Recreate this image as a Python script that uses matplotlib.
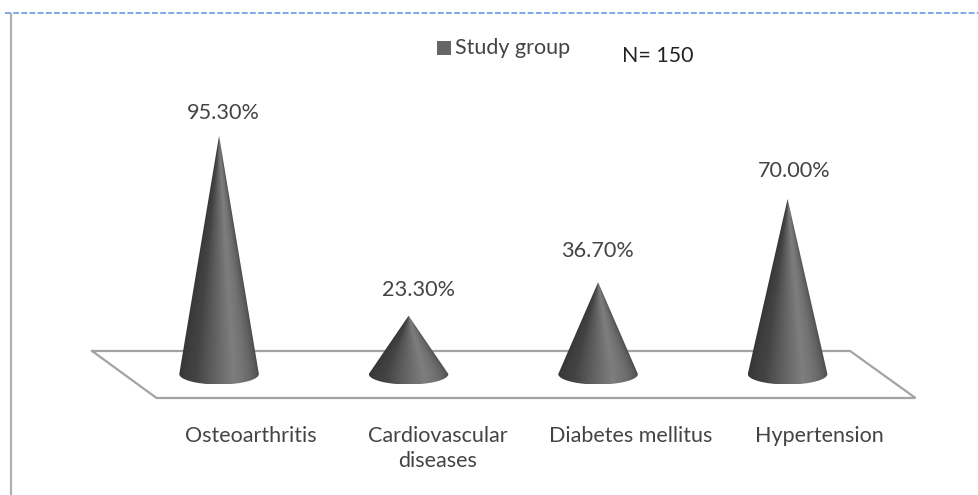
import numpy as np
import matplotlib
matplotlib.use("Agg")
import matplotlib.pyplot as plt
from matplotlib.colors import LinearSegmentedColormap
from matplotlib.patches import Polygon

categories = ["Osteoarthritis", "Cardiovascular\ndiseases", "Diabetes mellitus", "Hypertension"]
values = [95.3, 23.3, 36.7, 70.0]
value_labels = ["95.30%", "23.30%", "36.70%", "70.00%"]
legend_name = "Study group"
n_text = "N= 150"

plt.rcParams["font.family"] = ["Lato", "DejaVu Sans"]
text_col = "#444444"

fig = plt.figure(figsize=(9.79, 4.95), dpi=100)
# one axes over the whole figure: 1 category = 189.5 px, 1 percent = 2.5 px
ax = fig.add_axes([0, 0, 1, 1])
ax.set_xlim(-1.156, 4.01)
ax.set_ylim(-48.4, 149.6)
ax.axis("off")

shade = LinearSegmentedColormap.from_list(
    "cone", [(0, "#333333"), (0.3, "#434343"), (0.62, "#7e7e7e"), (0.72, "#727272"), (1, "#444444")])

half_w = 0.21
depth = 4.2
floor_col = "#a3a3a3"

# floor
floor_x = [-0.67, 3.33, 3.675, -0.33, -0.67]
floor_y = [9.2, 9.2, -9.6, -9.6, 9.2]
ax.plot(floor_x, floor_y, color=floor_col, lw=1.6, zorder=1, solid_joinstyle="miter")

# cones, shading runs along the slant towards the tip
for i, v in enumerate(values):
    t = np.linspace(np.pi, 0, 81)
    outline = [(i, v)] + list(zip(i + half_w * np.cos(t), -depth * np.sin(t)))
    xs = np.linspace(i - half_w, i + half_w, 200)
    ys = np.linspace(-depth, v, 400)
    gx, gy = np.meshgrid(xs, ys)
    width = half_w * np.clip(1 - gy / v, 0.002, 1)
    u = np.clip((gx - i) / width, -1, 1)
    u = (np.arcsin(u) / np.pi + 0.5)
    im = ax.imshow(u, cmap=shade, vmin=0, vmax=1, origin="lower", aspect="auto",
                   extent=[i - half_w, i + half_w, -depth, v], zorder=3, interpolation="bilinear")
    clip = Polygon(outline, closed=True, transform=ax.transData, fc="none", ec="none")
    ax.add_patch(clip)
    im.set_clip_path(clip)
ax.set_xlim(-1.156, 4.01)
ax.set_ylim(-48.4, 149.6)

# value labels
label_dx = [0.025, 0.05, -0.005, 0.035]
label_dy = [9.0, 10.2, 12.6, 11.2]
for i, v in enumerate(values):
    ax.text(i + label_dx[i], v + label_dy[i], value_labels[i], ha="center", va="center",
            fontsize=15.6, color=text_col)

# category labels
cat_dx = [0.17, 0.155, 0.17, 0.17]
for i, c in enumerate(categories):
    for k, line in enumerate(c.split("\n")):
        ax.text(i + cat_dx[i], -27 - k * 10.2, line, ha="center", va="baseline",
                fontsize=15.5, color=text_col)

# legend and N
ax.scatter([1.185], [130.4], marker="s", s=88, color="#666666", linewidths=0, zorder=3)
ax.text(1.245, 130.6, legend_name, ha="left", va="center", fontsize=15.5, color=text_col)
ax.text(2.125, 127.2, n_text, ha="left", va="center", fontsize=15.4, color="#222222")

# frame bits from the screenshot
ax.plot([-1.13, 4.01], [144.4, 144.4], color="#7fa8e6", lw=1.4, ls=(0, (3, 1.2)), zorder=2)
ax.plot([-1.098, -1.098], [144, -48.4], color="#b0b0b0", lw=1.6, zorder=2)

fig.savefig("out.png", dpi=100)
